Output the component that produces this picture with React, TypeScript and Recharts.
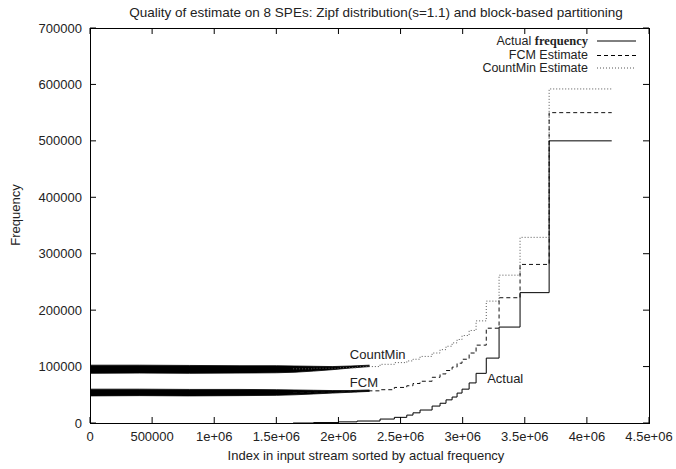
import React from 'react';
import {
  ComposedChart,
  Line,
  Area,
  XAxis,
  YAxis,
  ReferenceDot,
} from 'recharts';

// ---------- data ----------
const xTicks = [0, 500000, 1000000, 1500000, 2000000, 2500000, 3000000, 3500000, 4000000, 4500000];
const xTickLabels = ['0', '500000', '1e+06', '1.5e+06', '2e+06', '2.5e+06', '3e+06', '3.5e+06', '4e+06', '4.5e+06'];
const yTicks = [0, 100000, 200000, 300000, 400000, 500000, 600000, 700000];

// step breakpoints (index in sorted stream)
const stepX = [1635000, 1800000, 2000000, 2150000, 2335000, 2450000, 2550000, 2600000, 2657000, 2754000, 2818000, 2866000, 2915000, 2955000, 2995000, 3052000, 3108000, 3190000, 3293000, 3462000, 3696000, 4200000];
const actualValues = [0, 800, 2000, 3500, 7000, 10000, 14000, 18000, 23000, 30000, 35000, 41000, 46000, 53000, 60000, 71000, 88000, 115000, 170000, 231000, 500000, 500000];
const fcmValues = [54000, 54500, 55500, 57000, 59000, 63000, 66000, 70000, 74000, 81000, 87000, 93000, 99000, 106000, 113000, 124000, 138000, 168000, 222000, 281000, 550000, 550000];
const countMinValues = [96000, 97000, 98000, 100000, 104000, 107000, 110000, 113000, 118000, 124000, 130000, 136000, 142000, 148000, 155000, 164000, 181000, 216000, 262000, 329000, 592000, 592000];

// noisy bands of the estimates for low-frequency items
const bandX = [0, 400000, 800000, 1200000, 1500000, 1650000, 1800000, 1950000, 2100000, 2250000];
const cmLow = [88000, 88500, 88000, 88500, 89000, 90000, 92000, 94500, 97500, 100000];
const cmHigh = [102500, 102500, 102000, 101500, 101500, 101000, 100500, 100000, 101000, 102500];
const fcmLow = [48000, 48500, 48000, 48500, 49000, 50000, 51500, 53000, 54500, 56000];
const fcmHigh = [60000, 60000, 59500, 59500, 59000, 58500, 58000, 57500, 57500, 58500];

// ---------- layout ----------
const W = 676;
const H = 469;
const PLOT = { left: 90, right: 649, top: 28, bottom: 423 };
const FONT = '"Liberation Sans", Arial, sans-serif';
const TEXT = '#222';

type Row = { x: number; actual?: number; fcm?: number; countMin?: number; cmBand?: number[]; fcmBand?: number[] };
const rowMap = new Map<number, Row>();
stepX.forEach((x, i) => {
  const r = rowMap.get(x) || { x };
  r.actual = actualValues[i];
  r.fcm = fcmValues[i];
  r.countMin = countMinValues[i];
  rowMap.set(x, r);
});
bandX.forEach((x, i) => {
  const r = rowMap.get(x) || { x };
  r.cmBand = [cmLow[i], cmHigh[i]];
  r.fcmBand = [fcmLow[i], fcmHigh[i]];
  rowMap.set(x, r);
});
const data = Array.from(rowMap.values()).sort((a, b) => a.x - b.x);

const XTick = (props: any) => {
  const { x, payload } = props;
  const idx = xTicks.indexOf(payload.value);
  return (
    <g>
      <line x1={x} x2={x} y1={PLOT.bottom} y2={PLOT.bottom - 6} stroke="#000" />
      <line x1={x} x2={x} y1={PLOT.top} y2={PLOT.top + 6} stroke="#000" />
      <text x={x} y={441} textAnchor="middle" fontSize={13} fontFamily={FONT} fill={TEXT}>
        {xTickLabels[idx]}
      </text>
    </g>
  );
};

const YTick = (props: any) => {
  const { y, payload } = props;
  return (
    <g>
      <line x1={PLOT.left} x2={PLOT.left + 6} y1={y} y2={y} stroke="#000" />
      <line x1={PLOT.right} x2={PLOT.right - 6} y1={y} y2={y} stroke="#000" />
      <text x={82} y={y + 4.5} textAnchor="end" fontSize={13} fontFamily={FONT} fill={TEXT}>
        {String(payload.value)}
      </text>
    </g>
  );
};

const textLabel = (value: string) => (p: any) => {
  const vb = p.viewBox || {};
  return (
    <text x={vb.x} y={vb.y} fontSize={13} fontFamily={FONT} fill={TEXT}>
      {value}
    </text>
  );
};

export default function App() {
  return (
    <div style={{ position: 'absolute', left: 0, top: 0, width: W, height: H, background: '#fff' }}>
      <ComposedChart
        width={W}
        height={H}
        data={data}
        margin={{ top: PLOT.top, right: W - PLOT.right, left: 0, bottom: 0 }}
      >
        <rect
          x={PLOT.left + 0.5}
          y={PLOT.top + 0.5}
          width={PLOT.right - PLOT.left}
          height={PLOT.bottom - PLOT.top}
          fill="none"
          stroke="#000"
        />
        <XAxis
          dataKey="x"
          type="number"
          domain={[0, 4500000]}
          ticks={xTicks}
          interval={0}
          height={H - PLOT.bottom}
          axisLine={false}
          tickLine={false}
          tick={<XTick />}
          allowDataOverflow
        />
        <YAxis
          type="number"
          domain={[0, 700000]}
          ticks={yTicks}
          interval={0}
          width={PLOT.left}
          axisLine={false}
          tickLine={false}
          tick={<YTick />}
          allowDataOverflow
        />
        <Area
          dataKey="cmBand"
          type="linear"
          stroke="#000"
          strokeWidth={0.8}
          fill="#000"
          fillOpacity={1}
          connectNulls
          isAnimationActive={false}
          dot={false}
          activeDot={false}
        />
        <Area
          dataKey="fcmBand"
          type="linear"
          stroke="#000"
          strokeWidth={0.8}
          fill="#000"
          fillOpacity={1}
          connectNulls
          isAnimationActive={false}
          dot={false}
          activeDot={false}
        />
        <Line
          dataKey="countMin"
          type="stepAfter"
          stroke="#555"
          strokeWidth={1}
          strokeDasharray="1 2"
          dot={false}
          activeDot={false}
          connectNulls
          isAnimationActive={false}
        />
        <Line
          dataKey="fcm"
          type="stepAfter"
          stroke="#111"
          strokeWidth={1}
          strokeDasharray="4 3"
          dot={false}
          activeDot={false}
          connectNulls
          isAnimationActive={false}
        />
        <Line
          dataKey="actual"
          type="stepAfter"
          stroke="#000"
          strokeWidth={1}
          dot={false}
          activeDot={false}
          connectNulls
          isAnimationActive={false}
        />
        <ReferenceDot x={2100000} y={112000} r={1} fill="none" stroke="none" label={{ content: textLabel('CountMin') }} />
        <ReferenceDot x={2100000} y={62000} r={1} fill="none" stroke="none" label={{ content: textLabel('FCM') }} />
        <ReferenceDot x={3205000} y={69000} r={1} fill="none" stroke="none" label={{ content: textLabel('Actual') }} />
        <g fontFamily={FONT} fontSize={12.5} fill={TEXT}>
          <text x={588} y={45} textAnchor="end">
            Actual{' '}
            <tspan fontFamily='"Liberation Serif", "Times New Roman", serif' fontWeight="bold">frequency</tspan>
          </text>
          <text x={588} y={59} textAnchor="end">FCM Estimate</text>
          <text x={588} y={72} textAnchor="end">CountMin Estimate</text>
        </g>
        <line x1={597} x2={636} y1={41} y2={41} stroke="#000" />
        <line x1={597} x2={636} y1={55.5} y2={55.5} stroke="#000" strokeDasharray="4 3" />
        <line x1={597} x2={636} y1={68} y2={68} stroke="#555" strokeDasharray="1 2" />
        <text x={376} y={17} textAnchor="middle" fontSize={13.5} fontFamily={FONT} fill={TEXT}>
          Quality of estimate on 8 SPEs: Zipf distribution(s=1.1) and block-based partitioning
        </text>
        <text
          x={15}
          y={215}
          transform="rotate(-90 15 215)"
          textAnchor="middle"
          dominantBaseline="central"
          fontSize={13}
          fontFamily={FONT}
          fill={TEXT}
        >
          Frequency
        </text>
        <text x={366} y={460} textAnchor="middle" fontSize={13} fontFamily={FONT} fill={TEXT}>
          Index in input stream sorted by actual frequency
        </text>
      </ComposedChart>
    </div>
  );
}
